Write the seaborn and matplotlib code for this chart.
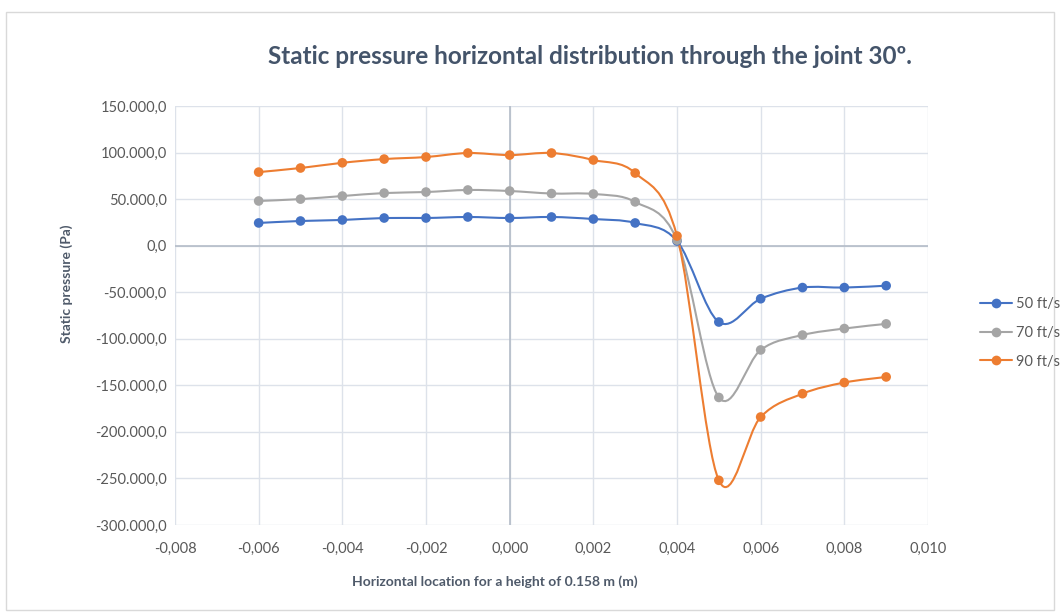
import numpy as np
import pandas as pd
import matplotlib
matplotlib.use("Agg")
import matplotlib.pyplot as plt
import seaborn as sns
from matplotlib.path import Path
from matplotlib.patches import PathPatch, Rectangle
from matplotlib.lines import Line2D
from matplotlib.ticker import FuncFormatter, MultipleLocator

# Data
location = [-0.006, -0.005, -0.004, -0.003, -0.002, -0.001, 0.000, 0.001,
            0.002, 0.003, 0.004, 0.005, 0.006, 0.007, 0.008, 0.009]
p_50 = [24400, 26500, 27600, 29700, 29700, 30800, 29700, 30800,
        28600, 24400, 5000, -82000, -57000, -45000, -45000, -43000]
p_70 = [48000, 50000, 53300, 56500, 57600, 59800, 58700, 56000,
        55500, 47000, 6000, -163000, -112000, -96000, -89000, -84000]
p_90 = [79000, 83400, 89000, 93000, 95200, 99500, 97300, 99500,
        92000, 78000, 10400, -252000, -184000, -159000, -147000, -141000]
series_names = ["50 ft/s", "70 ft/s", "90 ft/s"]
colors = ["#4472C4", "#A5A5A5", "#ED7D31"]

df = pd.concat([
    pd.DataFrame({"x": location, "p": vals, "speed": name})
    for name, vals in zip(series_names, [p_50, p_70, p_90])
])

sns.set_style("white")
plt.rcParams["font.family"] = ["Lato", "DejaVu Sans"]

text_col = "#595959"
fig = plt.figure(figsize=(10.62, 6.12), dpi=100)
ax = fig.add_axes([175 / 1062, 1 - 525 / 612, (928 - 175) / 1062, (525 - 106) / 612])

# outer chart border
fig.patches.append(Rectangle((6 / 1062, 0.004), 1 - 14 / 1062, 1 - 14 / 612,
                             transform=fig.transFigure, fill=False,
                             edgecolor="#d9d9d9", lw=1))


def smooth_path(xs, ys):
    # Excel-like smoothed line: Catmull-Rom segments as cubic Bezier curves
    pts = np.column_stack([xs, ys]).astype(float)
    ext = np.vstack([pts[0], pts, pts[-1]])
    verts = [pts[0]]
    codes = [Path.MOVETO]
    for i in range(1, len(ext) - 2):
        p0, p1, p2, p3 = ext[i - 1], ext[i], ext[i + 1], ext[i + 2]
        verts += [p1 + (p2 - p0) / 6, p2 - (p3 - p1) / 6, p2]
        codes += [Path.CURVE4] * 3
    return Path(verts, codes)


for name, col in zip(series_names, colors):
    sub = df[df["speed"] == name]
    ax.add_patch(PathPatch(smooth_path(sub["x"], sub["p"]), fill=False,
                           edgecolor=col, lw=1.5, zorder=3))

sns.scatterplot(data=df, x="x", y="p", hue="speed", palette=colors,
                s=48, edgecolor="none", legend=False, ax=ax, zorder=4)

ax.set_xlim(-0.008, 0.010)
ax.set_ylim(-300000, 150000)
ax.xaxis.set_major_locator(MultipleLocator(0.002))
ax.yaxis.set_major_locator(MultipleLocator(50000))


def fmt_y(v, pos):
    s = f"{v:,.1f}"
    return s.replace(",", "X").replace(".", ",").replace("X", ".")


ax.yaxis.set_major_formatter(FuncFormatter(fmt_y))
ax.xaxis.set_major_formatter(FuncFormatter(lambda v, pos: f"{v:.3f}".replace(".", ",")))

ax.grid(True, color="#dde2ea", lw=1)
for s in ax.spines.values():
    s.set_visible(False)
ax.axhline(0, color="#b4bcc8", lw=1.2, zorder=2)
ax.axvline(0, color="#b4bcc8", lw=1.2, zorder=2)
ax.tick_params(axis="both", length=0, labelsize=10.5, labelcolor=text_col)
ax.tick_params(axis="x", pad=12)
ax.tick_params(axis="y", pad=6)

ax.set_xlabel("Horizontal location for a height of 0.158 m (m)", fontsize=10,
              fontweight="bold", color="#4f5a6a")
ax.xaxis.set_label_coords((495 - 175) / 753, -(575 - 525) / 419)
ax.set_ylabel("Static pressure (Pa)", fontsize=10, fontweight="bold",
              color="#4f5a6a")
ax.yaxis.set_label_coords(-(175 - 73) / 753, (525 - 284) / 419)

fig.text(590 / 1062, 1 - 57 / 612,
         "Static pressure horizontal distribution through the joint 30º.",
         ha="center", va="center", fontsize=17.5, fontweight="bold", color="#44546A")

handles = [Line2D([0], [0], color=c, lw=1.5, marker="o", markersize=7,
                  markeredgewidth=0) for c in colors]
leg = fig.legend(handles, series_names, loc="center left",
                 bbox_to_anchor=(980 / 1062, 1 - 333 / 612), frameon=False,
                 fontsize=10.5, handlelength=2.2, labelspacing=1.0,
                 handletextpad=0.3, borderpad=0, borderaxespad=0)
for t in leg.get_texts():
    t.set_color(text_col)

fig.savefig("out.png", dpi=100)
